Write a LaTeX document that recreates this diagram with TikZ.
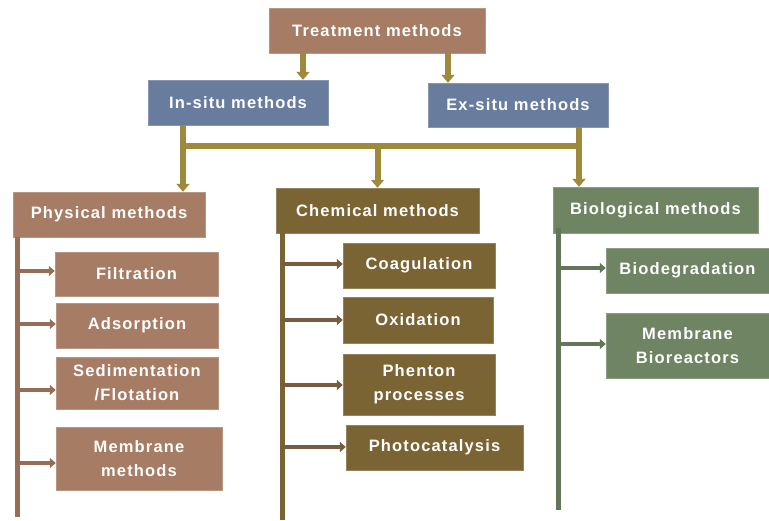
\documentclass[tikz,border=0pt]{standalone}
\usepackage{fontspec}
\setmainfont{Liberation Sans}
\newfontfamily\boxfont{Liberation Sans}[LetterSpace=7]
\usetikzlibrary{arrows.meta}

\definecolor{brownbox}{RGB}{166,124,101}
\definecolor{brownline}{RGB}{150,110,88}
\definecolor{bluebox}{RGB}{104,124,158}
\definecolor{goldline}{RGB}{158,138,58}
\definecolor{olivebox}{RGB}{123,100,52}
\definecolor{oliveline}{RGB}{120,92,62}
\definecolor{greenbox}{RGB}{110,132,98}
\definecolor{greenline}{RGB}{98,118,88}

\tikzset{
  mbox/.style={fill=#1, draw=#1!80!white, text=white, align=center,
    font=\boxfont\fontsize{16.5}{24}\selectfont\bfseries, inner sep=0pt},
  topconn/.style={goldline, line width=6pt,
    -{Triangle[width=13pt,length=8pt]}},
  sideconn/.style={#1, line width=4.5pt,
    -{Triangle[width=10pt,length=6pt]}},
  rail/.style={#1, line width=5pt}
}

\begin{document}
\begin{tikzpicture}[x=1pt,y=-1pt]
   \useasboundingbox (0,0) rectangle (769,520);
   % top levels
   \node[mbox=brownbox, minimum width=216pt, minimum height=45pt] (treat) at (377,30.5) {Treatment methods};
   \node[mbox=bluebox, minimum width=180pt, minimum height=45pt] (insitu) at (238,102.5) {In-situ methods};
   \node[mbox=bluebox, minimum width=180pt, minimum height=44pt] (exsitu) at (518,105) {Ex-situ methods};
   \draw[topconn] (treat.south -| 303,0) -- (insitu.north -| 303,0);
   \draw[topconn] (treat.south -| 448,0) -- (exsitu.north -| 448,0);

   % method groups
   \node[mbox=brownbox, minimum width=192pt, minimum height=45pt] (phys) at (109,214.5) {Physical methods};
   \node[mbox=olivebox, minimum width=203pt, minimum height=45pt] (chem) at (377.5,210.5) {Chemical methods};
   \node[mbox=greenbox, minimum width=205pt, minimum height=46pt] (bio) at (655.5,210) {Biological methods};
   \coordinate (barl) at (183,146);
   \coordinate (barr) at (579,146);
   \draw[goldline, line width=6pt] (insitu.south -| barl) -- (barl) -- (barr) -- (exsitu.south -| barr);
   \draw[topconn] (barl) -- (phys.north -| barl);
   \draw[topconn] (chem.north |- barl) -- (chem.north);
   \draw[topconn] (barr) -- (bio.north -| barr);

   % physical
   \node[mbox=brownbox, minimum width=163pt, minimum height=44pt] (filt) at (136.5,274) {Filtration};
   \node[mbox=brownbox, minimum width=162pt, minimum height=45pt] (ads) at (137,325.5) {Adsorption};
   \node[mbox=brownbox, minimum width=162pt, minimum height=52pt] (sed) at (137,383) {Sedimentation\\/Flotation};
   \node[mbox=brownbox, minimum width=166pt, minimum height=63pt] (memb) at (139,458.5) {Membrane\\methods};
   \coordinate (physend) at (17,517);
   \draw[rail=brownline] (phys.south -| physend) -- (physend);
   \foreach \n/\y in {filt/271,ads/324,sed/390,memb/463}
     \draw[sideconn=brownline] (17,\y) -- (\n.west |- 0,\y);

   % chemical
   \node[mbox=olivebox, minimum width=152pt, minimum height=45pt] (coag) at (419,265.5) {Coagulation};
   \node[mbox=olivebox, minimum width=150pt, minimum height=46pt] (oxid) at (418,320) {Oxidation};
   \node[mbox=olivebox, minimum width=152pt, minimum height=61pt] (phen) at (419,384.5) {Phenton\\processes};
   \node[mbox=olivebox, minimum width=177pt, minimum height=45pt] (photo) at (434.5,447.5) {Photocatalysis};
   \coordinate (chemend) at (282,520);
   \draw[rail=olivebox] (chem.south -| chemend) -- (chemend);
   \foreach \n/\y in {coag/264,oxid/320,phen/385,photo/447}
     \draw[sideconn=oliveline] (282,\y) -- (\n.west |- 0,\y);

   % biological
   \node[mbox=greenbox, minimum width=163pt, minimum height=45pt] (biodeg) at (687.5,270.5) {Biodegradation};
   \node[mbox=greenbox, minimum width=163pt, minimum height=65pt] (mbr) at (687.5,345.5) {Membrane\\Bioreactors};
   \coordinate (bioend) at (558,510);
   \draw[rail=greenline] (558,228) -- (bioend);
   \foreach \n/\y in {biodeg/268,mbr/344}
     \draw[sideconn=greenline] (558,\y) -- (\n.west |- 0,\y);
\end{tikzpicture}
\end{document}
